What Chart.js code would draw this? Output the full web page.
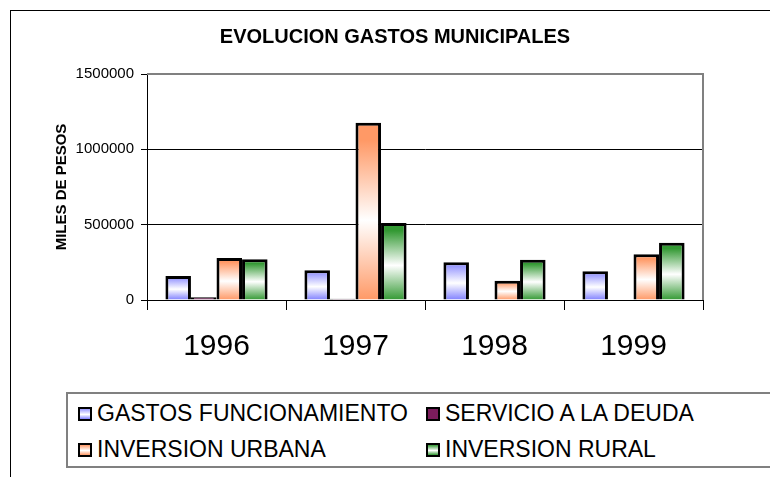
<!DOCTYPE html>
<html>
<head>
<meta charset="utf-8">
<script src="https://cdn.jsdelivr.net/npm/chart.js@4/dist/chart.umd.min.js"></script>
<style>
  html, body { margin: 0; padding: 0; background: #fff; overflow: hidden; }
  #wrap { position: relative; width: 770px; height: 477px; font-family: 'Liberation Sans', Arial, sans-serif; }
  #frame { position: absolute; left: 10px; top: 10px; width: 900px; height: 600px; border: 1px solid #000; }
  #chart { position: absolute; left: 0; top: 0; }
  #legend { position: absolute; left: 66px; top: 392px; width: 800px; height: 72px; border: 2px solid #808080; background: #fff; }
  .item { position: absolute; display: flex; align-items: center; font-size: 23px; color: #000; white-space: nowrap; }
  .swatch { width: 10px; height: 10px; border: 2px solid #000; margin-right: 5px; }
</style>
</head>
<body>
<div id="wrap">
  <div id="frame"></div>
  <canvas id="chart" width="770" height="477"></canvas>
  <div id="legend"></div>
</div>
<script>
const years = ['1996', '1997', '1998', '1999'];
const seriesNames = ['GASTOS FUNCIONAMIENTO', 'SERVICIO A LA DEUDA', 'INVERSION URBANA', 'INVERSION RURAL'];
const gastosFuncionamiento = [159000, 197000, 250000, 190000];
const servicioDeuda = [18000, 8000, 0, 0];
const inversionUrbana = [279000, 1177000, 128000, 303000];
const inversionRural = [270000, 511000, 267000, 380000];
const yTicks = [0, 500000, 1000000, 1500000];

const FONT = "'Liberation Sans', Arial, sans-serif";

// vertical gradient per bar: colour at the ends, white in the middle
function barFill(edgeTop, edgeBottom) {
  return (ctx) => {
    const chart = ctx.chart;
    if (!chart.chartArea || ctx.type !== 'data' || !ctx.parsed) return edgeTop;
    const y = chart.scales.y;
    const top = y.getPixelForValue(ctx.parsed.y);
    const base = y.getPixelForValue(0);
    if (Math.abs(base - top) < 2) return edgeTop;
    const g = chart.ctx.createLinearGradient(0, top, 0, base);
    g.addColorStop(0, edgeTop);
    g.addColorStop(0.1, edgeTop);
    g.addColorStop(0.55, '#ffffff');
    g.addColorStop(1, edgeBottom);
    return g;
  };
}

const swatchCss = [
  'linear-gradient(#9999ff, #fff 55%, #8080ff)',
  '#7b1c5c',
  'linear-gradient(#ff9966, #fff 55%, #ff9966)',
  'linear-gradient(#339933, #fff 55%, #339933)'
];

// plot border on top and right, like the old spreadsheet chart
const plotFrame = {
  id: 'plotFrame',
  afterDraw(chart) {
    const { ctx, chartArea: a } = chart;
    ctx.save();
    ctx.strokeStyle = '#808080';
    ctx.lineWidth = 2;
    ctx.beginPath();
    ctx.moveTo(a.left, a.top);
    ctx.lineTo(a.right, a.top);
    ctx.lineTo(a.right, a.bottom);
    ctx.stroke();
    ctx.restore();
  }
};

const chart = new Chart(document.getElementById('chart'), {
  type: 'bar',
  data: {
    labels: years,
    datasets: [
      { label: seriesNames[0], data: gastosFuncionamiento, backgroundColor: barFill('#9999ff', '#8080ff') },
      { label: seriesNames[1], data: servicioDeuda, backgroundColor: '#7b1c5c' },
      { label: seriesNames[2], data: inversionUrbana, backgroundColor: barFill('#ff9966', '#ff9966') },
      { label: seriesNames[3], data: inversionRural, backgroundColor: barFill('#339933', '#339933') }
    ]
  },
  plugins: [plotFrame],
  options: {
    responsive: false,
    animation: false,
    layout: { padding: { left: 20, right: 0, top: 0, bottom: 0 } },
    datasets: {
      bar: { borderColor: '#000', borderWidth: 3, categoryPercentage: 0.735, barPercentage: 1 }
    },
    plugins: {
      legend: { display: false },
      tooltip: { enabled: false },
      title: {
        display: true,
        text: 'EVOLUCION GASTOS MUNICIPALES',
        color: '#000',
        font: { family: FONT, size: 20, weight: 'bold' },
        padding: { top: 25, bottom: 25 }
      }
    },
    scales: {
      x: {
        grid: { drawOnChartArea: false, offset: true, tickLength: 10, color: '#000' },
        border: { color: '#000', width: 1 },
        ticks: { color: '#000', font: { family: FONT, size: 30 }, padding: 19, maxRotation: 0 },
        afterFit(scale) { scale.height = 177; }
      },
      y: {
        min: 0,
        max: 1500000,
        afterBuildTicks(scale) { scale.ticks = yTicks.map(v => ({ value: v })); },
        grid: {
          tickLength: 6,
          color: (c) => (c.tick && c.tick.value === 1500000) ? 'rgba(0,0,0,0)' : '#000',
          tickColor: '#000'
        },
        border: { color: '#000', width: 1 },
        ticks: { color: '#000', font: { family: FONT, size: 15 }, padding: 7, callback: (v) => String(v) },
        title: {
          display: true,
          text: 'MILES DE PESOS',
          color: '#000',
          font: { family: FONT, size: 15, weight: 'bold' },
          padding: { top: 33, bottom: 0 }
        },
        afterFit(scale) { scale.width = 127; }
      },
      // empty right-hand spacer so the plot stops where the reference does
      spacer: {
        type: 'linear',
        position: 'right',
        grid: { display: false },
        border: { display: false },
        ticks: { display: false },
        afterFit(scale) { scale.width = 67; }
      }
    }
  }
});

// legend in two aligned columns, built from the datasets
const legendPos = [[10, 20], [358, 20], [10, 56], [358, 56]];
const legend = document.getElementById('legend');
chart.data.datasets.forEach((ds, i) => {
  const item = document.createElement('div');
  item.className = 'item';
  item.style.left = legendPos[i][0] + 'px';
  item.style.top = (legendPos[i][1] - 14) + 'px';
  const sw = document.createElement('span');
  sw.className = 'swatch';
  sw.style.background = swatchCss[i];
  const tx = document.createElement('span');
  tx.textContent = ds.label;
  item.appendChild(sw);
  item.appendChild(tx);
  legend.appendChild(item);
});
</script>
</body>
</html>
